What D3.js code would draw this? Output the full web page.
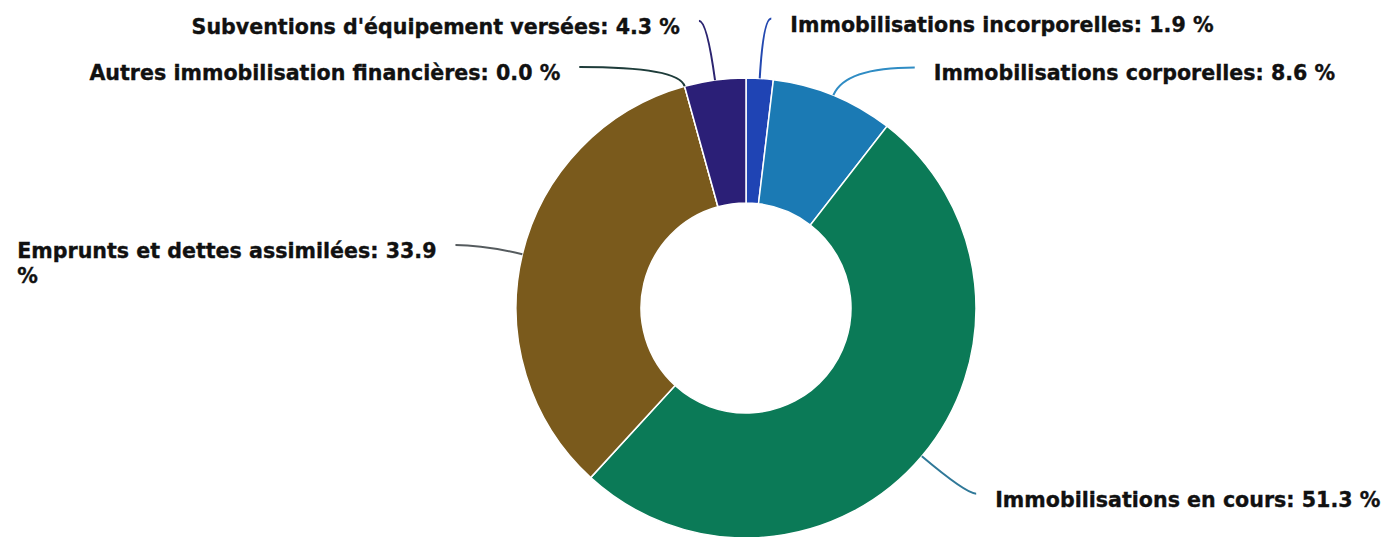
<!DOCTYPE html>
<html>
<head>
<meta charset="utf-8">
<script src="https://cdn.jsdelivr.net/npm/d3@7"></script>
<style>
  html, body { margin: 0; padding: 0; background: #fff; }
  svg { display: block; }
  text { font-family: 'DejaVu Sans', Verdana, sans-serif; font-weight: bold; fill: #111; stroke: #111; stroke-width: 0.35; }
</style>
</head>
<body>
<div id="chart"></div>
<script>
const width = 1386;
const height = 537;

// slices, clockwise from 12 o'clock
const categories = [
  'Immobilisations incorporelles',
  'Immobilisations corporelles',
  'Immobilisations en cours',
  'Emprunts et dettes assimilées',
  'Autres immobilisation financières',
  "Subventions d'équipement versées",
];
const values = [1.9, 8.6, 51.3, 33.9, 0.0, 4.3];
const colors = ['#1f44b4', '#1b7ab4', '#0b7a57', '#7a5a1c', '#1e4a48', '#2b1f77'];
const lineColors = ['#2348b0', '#2f8cc4', '#2f7898', '#555b5e', '#1e3c3a', '#2b2470'];

// label line lengths: radial part, then horizontal part
const len1 = [60, 30, 58, 40, 20, 60];
const len2 = [8, 70, 10, 28, 100, 8];

const cx = 746;
const cy = 308;
const outerR = 230;
const innerR = 105;

const svg = d3.select('#chart').append('svg')
  .attr('width', width)
  .attr('height', height);

const pie = d3.pie().sort(null).value((d)=>d)
  .startAngle(0).endAngle(2 * Math.PI);
const arcs = pie(values);

const arc = d3.arc().innerRadius(innerR).outerRadius(outerR);

const g = svg.append('g').attr('transform', `translate(${cx},${cy})`);

g.selectAll('path.slice')
  .data(arcs)
  .join('path')
  .attr('class', 'slice')
  .attr('d', arc)
  .attr('fill', (d, i)=>colors[i])
  .attr('stroke', '#fff')
  .attr('stroke-width', 1.5);

const labels = arcs.map((d, i)=>{
  const a = (d.startAngle + d.endAngle) / 2;
  const dx = Math.sin(a);
  const dy = -Math.cos(a);
  const side = dx < 0 ? -1 : 1;
  const s = [outerR * dx, outerR * dy];
  const m = [(outerR + len1[i]) * dx, (outerR + len1[i]) * dy];
  const e = [m[0] + side * len2[i], m[1]];
  return {i, side, s, m, e, text: `${categories[i]}: ${values[i].toFixed(1)} %`};
});

g.selectAll('path.leader')
  .data(labels)
  .join('path')
  .attr('class', 'leader')
  .attr('fill', 'none')
  .attr('stroke', (d)=>lineColors[d.i])
  .attr('stroke-width', 2)
  .attr('d', (d)=>`M${d.s[0]},${d.s[1]}Q${d.m[0]},${d.m[1]} ${d.e[0]},${d.e[1]}`);

const gap = 19;
labels.forEach((d)=>{
  const t = g.append('text')
    .attr('font-size', 20.6)
    .attr('y', d.e[1] + 13);
  if (d.side > 0) {
    t.attr('x', d.e[0] + gap).text(d.text);
    return;
  }
  t.attr('x', d.e[0] - gap).attr('text-anchor', 'end').text(d.text);
  const w = t.node().getComputedTextLength();
  // wrap the last word when the label runs off the left edge
  if (cx + d.e[0] - gap - w < 8) {
    const words = d.text.split(' ');
    const last = words.pop();
    t.text(null).attr('text-anchor', 'start');
    const first = t.append('tspan').text(words.join(' '));
    const w1 = first.node().getComputedTextLength();
    const x0 = d.e[0] - gap - w1;
    first.attr('x', x0);
    t.append('tspan').attr('x', x0).attr('dy', 25).text(last);
  }
});
</script>
</body>
</html>
